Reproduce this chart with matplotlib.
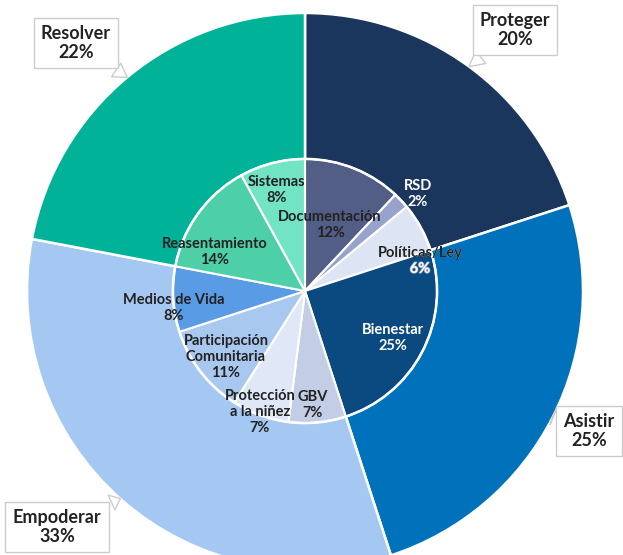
import matplotlib
matplotlib.use("Agg")
from matplotlib import pyplot as plt
from matplotlib.patches import Circle
import matplotlib.patheffects as pe
import numpy as np

plt.rcParams["font.family"] = ["Lato", "DejaVu Sans"]

# outer ring: pillars
outer_labels = ["Proteger", "Asistir", "Empoderar", "Resolver"]
outer_values = [20, 25, 33, 22]
outer_colors = ["#1b365d", "#0072bc", "#a5c8f2", "#00b398"]

# inner pie: areas
inner_labels = ["Documentación", "RSD", "Políticas/Ley", "Bienestar", "GBV",
                "Protección\na la niñez", "Participación\nComunitaria",
                "Medios de Vida", "Reasentamiento", "Sistemas"]
inner_values = [12, 2, 6, 25, 7, 7, 11, 8, 14, 8]
inner_colors = ["#525e86", "#97a3cc", "#dde4f4", "#0b4a80", "#c3cde6",
                "#e0e8f8", "#a8c8f0", "#5a9be6", "#4dd0a8", "#72e4c4"]
inner_text_colors = ["#222222", "white", "#222222", "white", "#222222",
                     "#222222", "#222222", "#222222", "#222222", "#222222"]

# pixel helpers (figure is 623x555, pie centre at 305,291, radius 278 px)
W, H = 623, 555
CX, CY, R = 305, 291, 278


def px(x, y):
    return (x - CX) / R, (CY - y) / R


# label centres in pixels
inner_label_pos = [(330, 225), (418, 194), (420, 261), (393, 338), (313, 405),
                   (260, 412), (226, 357), (174, 308), (215, 252), (277, 190)]
outer_box_pos = [(515, 30), (589, 431), (57, 527), (76, 43)]

fig = plt.figure(figsize=(W / 100, H / 100), dpi=100)
ax = fig.add_axes([0, 0, 1, 1])

wedges, _ = ax.pie(outer_values, colors=outer_colors, startangle=90,
                   counterclock=False, radius=1.0,
                   wedgeprops={"edgecolor": "white", "linewidth": 1.8})

inner_r = 0.475
iw, _ = ax.pie(inner_values, colors=inner_colors, startangle=90,
               counterclock=False, radius=inner_r,
               wedgeprops={"edgecolor": "white", "linewidth": 1.5})
ax.add_patch(Circle((0, 0), inner_r, fill=False, edgecolor="white", lw=1.8))

# pie() sets its own limits, so set ours afterwards
ax.set_xlim(-CX / R, (W - CX) / R)
ax.set_ylim(-(H - CY) / R, CY / R)
ax.set_aspect("equal")
ax.axis("off")

fs_in = 10.5
for i, lab in enumerate(inner_labels):
    x, y = px(*inner_label_pos[i])
    txt = lab + "\n" + str(inner_values[i]) + "%"
    if lab == "Políticas/Ley":
        # part of this label spills over the outer ring
        ax.text(x, y, lab + "\n ", ha="center", va="center", fontsize=fs_in,
                fontweight="bold", color="white", linespacing=1.15)
        t = ax.text(x, y, lab + "\n ", ha="center", va="center", fontsize=fs_in,
                    fontweight="bold", color="#222222", linespacing=1.15)
        t.set_clip_path(Circle((0, 0), inner_r, transform=ax.transData))
        ax.text(x, y, " \n" + str(inner_values[i]) + "%", ha="center",
                va="center", fontsize=fs_in, fontweight="bold", color="white",
                linespacing=1.15,
                path_effects=[pe.withStroke(linewidth=1.0, foreground="#9aa6c6")])
        continue
    ax.text(x, y, txt, ha="center", va="center", fontsize=fs_in,
            fontweight="bold", color=inner_text_colors[i], linespacing=1.15)

# callout boxes for the outer ring
for i, w in enumerate(wedges):
    mid = np.deg2rad((w.theta1 + w.theta2) / 2)
    tip = (0.99 * np.cos(mid), 0.99 * np.sin(mid))
    bx, by = px(*outer_box_pos[i])
    ax.annotate(outer_labels[i] + "\n" + str(outer_values[i]) + "%",
                xy=tip, xytext=(bx, by), ha="center", va="center",
                fontsize=13, fontweight="bold", color="#222222",
                linespacing=1.1,
                bbox=dict(boxstyle="square,pad=0.4", fc="white",
                          ec="#cccccc", lw=1),
                arrowprops=dict(arrowstyle="wedge,tail_width=0.9,shrink_factor=0.5",
                                fc="white", ec="#cccccc", lw=1))

fig.savefig("out.png", dpi=100)
